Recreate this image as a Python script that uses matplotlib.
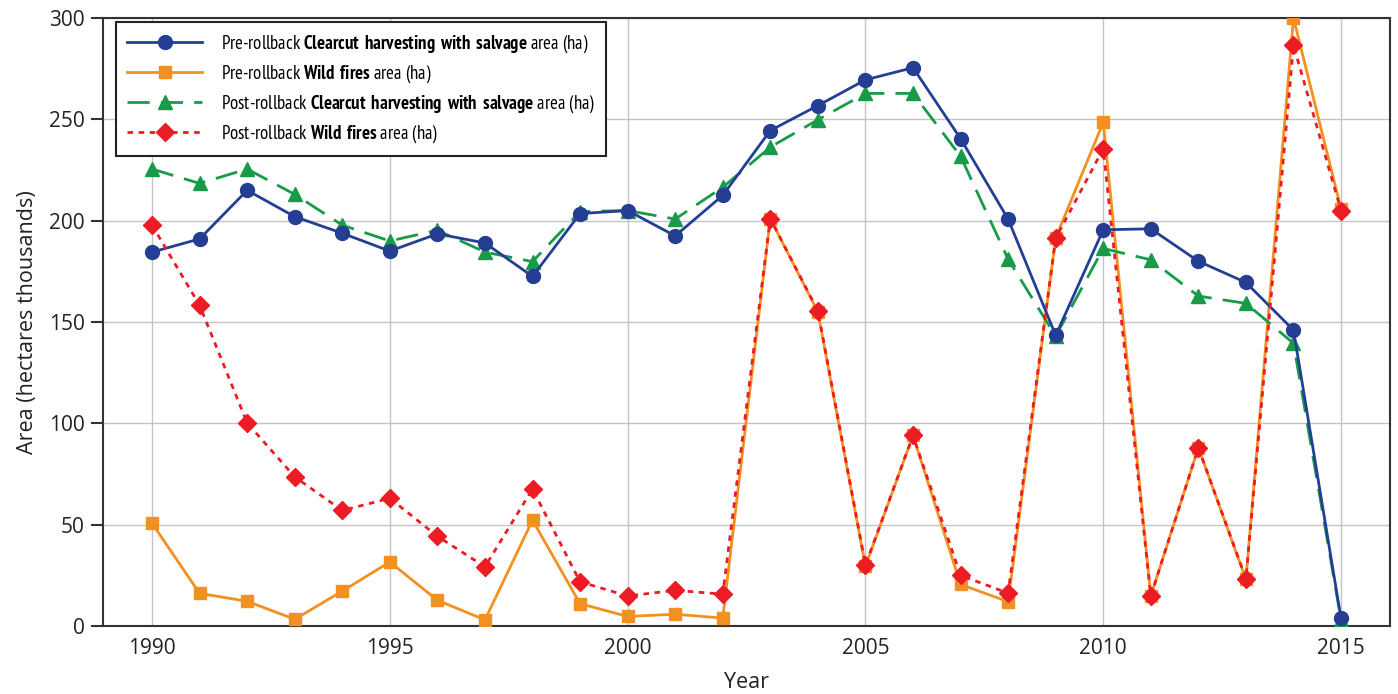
import matplotlib
matplotlib.use('Agg')
import matplotlib.pyplot as plt
from matplotlib import font_manager

# 数据（千公顷）
years = list(range(1990, 2016))

pre_clearcut = [184.5, 191, 215, 202, 193.8, 185, 193.5, 189, 172.5, 203.5,
                205, 192.5, 212.5, 244.5, 256.8, 269.5, 275.5, 240.5, 200.8, 143.4,
                195.5, 196, 180, 169.5, 146, 3.7]
pre_fires = [50.7, 16.1, 12.2, 3.3, 17.2, 31.6, 12.7, 3.0, 52.2, 11,
             4.7, 5.8, 3.9, 201, 155, 29.5, 94, 20.5, 12, 191.5,
             248.5, 14.8, 88, 23, 300, 205.8]
post_clearcut = [225.5, 218.4, 225.5, 213, 197.8, 190, 195.3, 184.5, 179.8, 204.5,
                 205, 200.8, 216.5, 236.3, 249.8, 262.8, 262.8, 231.8, 181, 143,
                 186.3, 180.7, 162.8, 159.2, 139.5, 3]
post_fires = [197.8, 158.3, 100.2, 73.6, 57, 63, 44.3, 29.2, 67.6, 21.8,
              14.8, 17.6, 15.7, 201, 155.5, 30, 94, 25, 16.2, 191.3,
              235.5, 14.8, 88, 23.3, 286.5, 205]

labels = [r'Pre-rollback $\bf{Clearcut\ harvesting\ with\ salvage}$ area (ha)',
          r'Pre-rollback $\bf{Wild\ fires}$ area (ha)',
          r'Post-rollback $\bf{Clearcut\ harvesting\ with\ salvage}$ area (ha)',
          r'Post-rollback $\bf{Wild\ fires}$ area (ha)']


def pick_font(candidates, need_bold=False):
    """返回第一个已安装的字体"""
    fonts = font_manager.fontManager.ttflist
    for name in candidates:
        has = [f for f in fonts if f.name == name and f.style == 'normal']
        if not has:
            continue
        if need_bold and not any(f.weight >= 600 for f in has):
            continue
        return name
    return 'DejaVu Sans'


main_font = pick_font(['Open Sans', 'Noto Sans', 'Lato'])
narrow_font = pick_font(['Liberation Sans Narrow', 'PT Sans Narrow', 'Fira Sans Condensed',
                         'Roboto Condensed', 'IBM Plex Sans Condensed', 'Open Sans Condensed',
                         'Archivo Narrow', 'Encode Sans Condensed', 'Barlow Semi Condensed',
                         'Asap Condensed', 'Sofia Sans Semi Condensed'], need_bold=True)

plt.rcParams['font.family'] = [main_font, 'DejaVu Sans']
plt.rcParams['mathtext.fontset'] = 'custom'
plt.rcParams['mathtext.rm'] = narrow_font
plt.rcParams['mathtext.bf'] = narrow_font + ':bold'

fig = plt.figure(figsize=(13.98, 6.94), dpi=100)
ax = fig.add_axes([0.0737, 0.098, 0.9206, 0.876])

ax.plot(years, pre_clearcut, color='#243e94', lw=2, marker='o', ms=10,
        label=labels[0], zorder=4)
ax.plot(years, pre_fires, color='#f39022', lw=2, marker='s', ms=9,
        label=labels[1], zorder=3)
ax.plot(years, post_clearcut, color='#179b48', lw=2, marker='^', ms=10,
        dashes=(8, 4), label=labels[2], zorder=3)
ax.plot(years, post_fires, color='#ec1c24', lw=2, marker='D', ms=9,
        dashes=(2, 2), label=labels[3], zorder=4)

ax.set_xlim(1988.97, 2016.03)
ax.set_ylim(0, 300)
ax.set_xticks(range(1990, 2016, 5))
ax.set_yticks(range(0, 301, 50))
ax.grid(True, color='#c4c4c4', lw=1)
ax.set_axisbelow(True)

for s in ax.spines.values():
    s.set_color('#333333')
    s.set_linewidth(1.5)

ax.tick_params(axis='y', direction='out', length=9, width=1.5, color='#333333',
               labelsize=15, labelcolor='#222222', pad=4)
ax.tick_params(axis='x', length=0, labelsize=15, labelcolor='#222222', pad=9)

ax.set_xlabel('Year', fontsize=15.5, color='#222222', labelpad=9)
ax.set_ylabel('Area (hectares thousands)', fontsize=15.5, color='#222222', labelpad=8)

leg = ax.legend(loc='upper left', bbox_to_anchor=(0.01, 0.993), borderaxespad=0,
                fancybox=False, edgecolor='#222222', framealpha=1,
                prop={'family': narrow_font, 'size': 13.5},
                handlelength=4.0, labelspacing=0.45, borderpad=0.6, handletextpad=1.0)
leg.get_frame().set_linewidth(1.5)

fig.savefig('out.png', dpi=100)
